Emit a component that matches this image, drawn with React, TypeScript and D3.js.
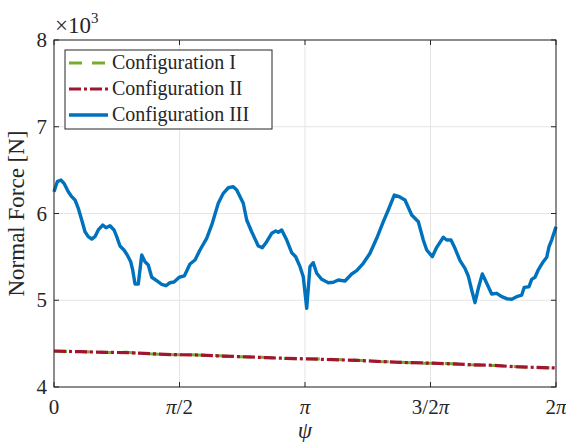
import React from "react";
import * as d3 from "d3";

// Configuration III (blue) — psi [rad], normal force [N]
const psiIII = [0, 0.041, 0.088, 0.125, 0.179, 0.222, 0.263, 0.304, 0.347, 0.388, 0.429, 0.472, 0.513, 0.554, 0.61, 0.651, 0.701, 0.751, 0.785, 0.826, 0.876, 0.917, 0.96, 0.985, 1.014, 1.055, 1.098, 1.139, 1.18, 1.223, 1.285, 1.348, 1.402, 1.452, 1.502, 1.568, 1.631, 1.702, 1.765, 1.827, 1.911, 1.981, 2.056, 2.119, 2.182, 2.244, 2.287, 2.369, 2.412, 2.474, 2.557, 2.607, 2.662, 2.725, 2.775, 2.807, 2.85, 2.913, 2.975, 3.025, 3.079, 3.12, 3.163, 3.204, 3.245, 3.288, 3.351, 3.433, 3.496, 3.558, 3.642, 3.726, 3.789, 3.871, 3.955, 4.039, 4.122, 4.184, 4.259, 4.322, 4.393, 4.477, 4.56, 4.622, 4.665, 4.735, 4.79, 4.873, 4.915, 4.969, 5.019, 5.082, 5.144, 5.185, 5.228, 5.269, 5.311, 5.361, 5.416, 5.478, 5.541, 5.603, 5.666, 5.729, 5.791, 5.854, 5.886, 5.945, 5.979, 6.02, 6.061, 6.124, 6.167, 6.196, 6.229, 6.283];
const forceIII = [6251, 6367, 6386, 6348, 6251, 6194, 6156, 6060, 5925, 5790, 5733, 5706, 5733, 5810, 5867, 5836, 5859, 5810, 5733, 5625, 5579, 5522, 5444, 5349, 5187, 5187, 5522, 5444, 5406, 5265, 5225, 5184, 5168, 5202, 5210, 5265, 5280, 5418, 5464, 5579, 5714, 5887, 6118, 6233, 6297, 6309, 6271, 6118, 5925, 5790, 5625, 5606, 5675, 5772, 5798, 5783, 5810, 5694, 5548, 5502, 5387, 5271, 4907, 5387, 5433, 5311, 5241, 5202, 5207, 5233, 5222, 5303, 5341, 5426, 5541, 5714, 5905, 6040, 6213, 6194, 6156, 5983, 5905, 5694, 5579, 5502, 5610, 5726, 5694, 5694, 5599, 5456, 5368, 5280, 5118, 4972, 5138, 5303, 5195, 5072, 5080, 5041, 5018, 5011, 5041, 5060, 5149, 5156, 5241, 5265, 5349, 5444, 5495, 5617, 5694, 5848];

// Configurations I (green) and II (red)
const psiLow = [0, 0.325, 0.659, 0.91, 1.202, 1.493, 1.786, 2.078, 2.328, 2.662, 2.912, 3.204, 3.496, 3.789, 4.039, 4.331, 4.622, 4.915, 5.207, 5.498, 5.749, 5.999, 6.283];
const forceI = [4413, 4408, 4398, 4400, 4382, 4372, 4370, 4360, 4349, 4340, 4328, 4325, 4318, 4309, 4295, 4286, 4275, 4271, 4256, 4248, 4236, 4225, 4219];
const forceII = [4415, 4407, 4400, 4396, 4384, 4373, 4369, 4357, 4350, 4338, 4330, 4323, 4315, 4307, 4296, 4284, 4277, 4269, 4257, 4250, 4234, 4227, 4219];

const yTicks = [4000, 5000, 6000, 7000, 8000];
const yTickLabels = ["4", "5", "6", "7", "8"];
const xTicks = [0, Math.PI / 2, Math.PI, 1.5 * Math.PI, 2 * Math.PI];
const xTickLabels = ["0", "π/2", "π", "3/2π", "2π"];
const seriesNames = ["Configuration I", "Configuration II", "Configuration III"];

const W = 566, H = 442;
const L = 54, T = 40, R = 556, B = 387;
const FONT = "'Liberation Serif', serif";
const AX = "#262626";

export default function App() {
  const x = d3.scaleLinear().domain([0, 2 * Math.PI]).range([L, R]);
  const y = d3.scaleLinear().domain([4000, 8000]).range([B, T]);
  const line = d3.line<[number, number]>().x(d => x(d[0])).y(d => y(d[1]));
  const pIII = line(psiIII.map((p, i) => [p, forceIII[i]]) as [number, number][]) || "";
  const pI = line(psiLow.map((p, i) => [p, forceI[i]]) as [number, number][]) || "";
  const pII = line(psiLow.map((p, i) => [p, forceII[i]]) as [number, number][]) || "";

  const styles = [
    { color: "#77AC30", dash: "13,10", width: 3 },
    { color: "#A2142F", dash: "12,3,3,3", width: 3.2 },
    { color: "#0072BD", dash: "", width: 3.4 },
  ];

  return (
    <svg width={W} height={H} style={{ position: "absolute", left: 0, top: 0, background: "#fff" }} fontFamily={FONT}>
      <rect x={0} y={0} width={W} height={H} fill="#fff" />
      {/* grid */}
      {xTicks.map((t, i) => (
        <line key={"gx" + i} x1={x(t)} x2={x(t)} y1={T} y2={B} stroke="#e5e5e5" strokeWidth={1} />
      ))}
      {yTicks.map((t, i) => (
        <line key={"gy" + i} x1={L} x2={R} y1={y(t)} y2={y(t)} stroke="#e5e5e5" strokeWidth={1} />
      ))}
      {/* data */}
      <path d={pI} fill="none" stroke={styles[0].color} strokeWidth={styles[0].width} strokeDasharray={styles[0].dash} />
      <path d={pII} fill="none" stroke={styles[1].color} strokeWidth={styles[1].width} strokeDasharray={styles[1].dash} />
      <path d={pIII} fill="none" stroke={styles[2].color} strokeWidth={styles[2].width} strokeLinejoin="round" />
      {/* box */}
      <rect x={L} y={T} width={R - L} height={B - T} fill="none" stroke={AX} strokeWidth={1} />
      {/* ticks */}
      {xTicks.map((t, i) => (
        <g key={"tx" + i}>
          <line x1={x(t)} x2={x(t)} y1={B} y2={B - 5} stroke={AX} />
          <line x1={x(t)} x2={x(t)} y1={T} y2={T + 5} stroke={AX} />
          <text x={x(t)} y={414} textAnchor="middle" fontSize={21} fill={AX}>
            {xTickLabels[i].split("").map((c, j) => (
              <tspan key={j} fontStyle={c === "π" ? "italic" : "normal"}>{c}</tspan>
            ))}
          </text>
        </g>
      ))}
      {yTicks.map((t, i) => (
        <g key={"ty" + i}>
          <line x1={L} x2={L + 5} y1={y(t)} y2={y(t)} stroke={AX} />
          <line x1={R} x2={R - 5} y1={y(t)} y2={y(t)} stroke={AX} />
          <text x={47} y={y(t) + 7} textAnchor="end" fontSize={21} fill={AX}>{yTickLabels[i]}</text>
        </g>
      ))}
      {/* exponent */}
      <text x={55} y={33} fontSize={23} fill={AX}>×10<tspan fontSize={15} dy={-10}>3</tspan></text>
      {/* axis labels */}
      <text x={305} y={438} textAnchor="middle" fontSize={23} fontStyle="italic" fill={AX}>ψ</text>
      <text transform={`translate(24, ${(T + B) / 2}) rotate(-90)`} textAnchor="middle" fontSize={23} fill={AX}>Normal Force [N]</text>
      {/* legend */}
      <rect x={65} y={50} width={207} height={79} fill="#fff" stroke={AX} strokeWidth={1} />
      {seriesNames.map((name, i) => {
        const ly = 63 + i * 26;
        const s = styles[i];
        return (
          <g key={"lg" + i}>
            <line x1={69} x2={108} y1={ly} y2={ly} stroke={s.color} strokeWidth={s.width} strokeDasharray={s.dash} />
            <text x={112} y={ly + 6} fontSize={20} fill={AX}>{name}</text>
          </g>
        );
      })}
    </svg>
  );
}
